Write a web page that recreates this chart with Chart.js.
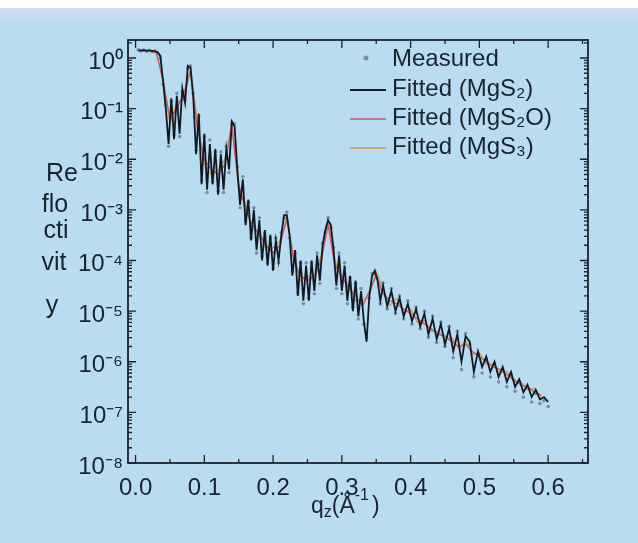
<!DOCTYPE html>
<html><head><meta charset="utf-8">
<script src="https://cdn.jsdelivr.net/npm/chart.js@4.4.0/dist/chart.umd.min.js"></script>
<style>
html,body{margin:0;padding:0;background:#b9dcf1;}
#wrap{position:relative;width:638px;height:543px;overflow:hidden;background:#b9dcf1;}
#topstrip{position:absolute;left:0;top:0;width:638px;height:8px;background:#fff;}
#fade{position:absolute;left:0;top:8px;width:638px;height:16px;background:linear-gradient(#d3dcf0,#b9dcf1);}
canvas{position:absolute;left:0;top:0;}
</style></head><body>
<div id="wrap"><div id="topstrip"></div><div id="fade"></div><canvas id="c" width="638" height="543"></canvas></div>
<script>
// ---- data (q in 1/Å, reflectivity) ----
const qGrid = [
 0.004,0.008,0.012,0.016,0.020,0.024,0.028,0.032,0.036,0.040,
 0.044,0.048,0.052,0.056,0.060,0.064,0.068,0.072,0.076,0.080,
 0.084,0.088,0.092,0.096,0.100,0.104,0.108,0.112,0.116,0.120,
 0.124,0.128,0.132,0.136,0.140,0.144,0.148,0.152,0.156,0.160,
 0.164,0.168,0.172,0.176,0.180,0.184,0.188,0.192,0.196,0.200,
 0.204,0.208,0.212,0.216,0.220,0.224,0.228,0.232,0.236,0.240,
 0.244,0.248,0.252,0.256,0.260,0.264,0.268,0.272,0.276,0.280,
 0.284,0.288,0.292,0.296,0.300,0.304,0.308,0.312,0.316,0.320,
 0.324,0.328,0.332,0.336,0.340,0.344,0.348,0.352,0.356,0.360,
 0.366,0.372,0.378,0.384,0.390,0.396,0.402,0.408,0.414,0.420,
 0.426,0.432,0.438,0.444,0.450,0.456,0.462,0.468,0.474,0.480,
 0.486,0.492,0.498,0.504,0.510,0.516,0.522,0.528,0.534,0.540,
 0.546,0.552,0.558,0.564,0.570,0.576,0.582,0.588,0.594,0.600
];
const measured = [
 1.45,1.38,1.44,1.36,1.42,1.33,1.37,1.25,1.0,0.3,
 0.12,0.018,0.14,0.03,0.2,0.028,0.22,0.15,0.62,0.7,
 0.2,0.015,0.07,3.8e-3,0.028,2.2e-3,0.024,3.6e-3,0.014,2.3e-3,
 0.014,2.2e-3,0.018,5.5e-3,0.05,0.05,7e-3,1.1e-3,4.5e-3,6e-4,
 1.4e-3,2.8e-4,1.1e-3,1.4e-4,7e-4,1.2e-4,3.5e-4,9e-5,2.8e-4,7e-5,
 2.8e-4,9e-5,3.6e-4,7e-4,9e-4,2.8e-4,6e-5,1.4e-4,2.3e-5,9e-5,
 1.4e-5,9e-5,1.8e-5,9e-5,2.2e-5,1.4e-4,3.5e-5,2.2e-4,3.6e-4,7e-4,
 4.5e-4,1.8e-4,2.8e-5,1.4e-4,2.2e-5,9e-5,1.4e-5,4.5e-5,1.2e-5,3.5e-5,
 7e-6,2.8e-5,5.5e-6,3e-6,1.8e-5,5.5e-5,5.5e-5,4.5e-5,1.4e-5,3.6e-5,
 1.1e-5,2.8e-5,9e-6,2e-5,7e-6,1.6e-5,5.5e-6,1.2e-5,4.5e-6,1e-5,
 3e-6,8e-6,2.4e-6,6e-6,2e-6,5e-6,1.2e-6,4e-6,7e-7,3.6e-6,
 2.2e-6,5e-7,1.4e-6,6e-7,1.1e-6,5e-7,9e-7,4e-7,7e-7,3.2e-7,
 5.5e-7,2.6e-7,4e-7,2e-7,3e-7,1.6e-7,2.4e-7,1.5e-7,1.7e-7,1.3e-7
];
const fitMgS2 = [
 1.4,1.42,1.42,1.4,1.4,1.38,1.35,1.3,1.1,0.35,
 0.1,0.02,0.16,0.025,0.18,0.032,0.25,0.13,0.7,0.65,
 0.16,0.0126,0.08,3.2e-3,0.032,2.5e-3,0.02,3.2e-3,0.016,2e-3,
 0.0126,2.5e-3,0.016,6.3e-3,0.056,0.045,6.3e-3,1.26e-3,4e-3,5e-4,
 1.6e-3,2.5e-4,1e-3,1.6e-4,6.3e-4,1e-4,4e-4,7.9e-5,3.2e-4,6.3e-5,
 2.5e-4,1e-4,3.2e-4,7.9e-4,7.9e-4,3.2e-4,5e-5,1.6e-4,2e-5,1e-4,
 1.6e-5,7.9e-5,1.6e-5,1e-4,2.5e-5,1.26e-4,4e-5,2e-4,4e-4,6.3e-4,
 5e-4,1.6e-4,3.2e-5,1.26e-4,2.5e-5,7.9e-5,1.6e-5,5e-5,1e-5,4e-5,
 7.9e-6,2.5e-5,6.3e-6,2.5e-6,2e-5,5e-5,6.3e-5,4e-5,1.6e-5,3.2e-5,
 1.26e-5,2.5e-5,1e-5,1.8e-5,7.9e-6,1.4e-5,6.3e-6,1.1e-5,5e-6,8.9e-6,
 3.5e-6,7.1e-6,2.8e-6,5.6e-6,2.2e-6,4.5e-6,1.6e-6,3.5e-6,1e-6,3.2e-6,
 2.5e-6,6.3e-7,1.6e-6,7.9e-7,1.26e-6,6.3e-7,1e-6,5e-7,7.9e-7,4e-7,
 6.3e-7,3.2e-7,4.5e-7,2.5e-7,3.5e-7,2e-7,2.8e-7,1.8e-7,2e-7,1.6e-7
];
const qCoarse = [
 0.01,0.02,0.03,0.04,0.05,0.06,0.07,0.08,0.09,0.10,
 0.11,0.12,0.13,0.14,0.15,0.16,0.17,0.18,0.19,0.20,
 0.21,0.22,0.23,0.24,0.25,0.26,0.27,0.28,0.29,0.30,
 0.31,0.32,0.33,0.34,0.35,0.36,0.37,0.38,0.39,0.40,
 0.41,0.42,0.43,0.44,0.45,0.46,0.47,0.48,0.49,0.50,
 0.51,0.52,0.53,0.54,0.55,0.56,0.57,0.58,0.59
];
const fitMgS2O = [
 1.4,1.38,1.32,0.35,0.063,0.1,0.2,0.55,0.04,0.01,
 6.3e-3,5e-3,7.9e-3,0.045,3.2e-3,1e-3,5e-4,3.2e-4,2e-4,1.4e-4,
 2e-4,7.1e-4,1e-4,5e-5,4e-5,5e-5,1e-4,5e-4,7.9e-5,5e-5,
 2.8e-5,2e-5,1.26e-5,2.5e-5,5e-5,2.2e-5,1.6e-5,1.4e-5,1.1e-5,8.9e-6,
 7.1e-6,5.6e-6,4.5e-6,3.5e-6,3.2e-6,2.5e-6,2e-6,2.2e-6,1.6e-6,1.26e-6,
 1e-6,7.9e-7,7.1e-7,5.6e-7,4.5e-7,3.5e-7,3.2e-7,2.5e-7,2.2e-7
];
const fitMgS3 = [
 1.42,1.36,1.28,0.4,0.05,0.13,0.16,0.6,0.05,0.008,
 5e-3,6e-3,0.01,0.05,2.5e-3,1.3e-3,4e-4,4e-4,1.6e-4,1.8e-4,
 2.5e-4,6e-4,1.3e-4,4e-5,5e-5,4e-5,1.3e-4,6e-4,1e-4,4e-5,
 3.5e-5,1.6e-5,1.6e-5,2e-5,6e-5,2.8e-5,1.3e-5,1.8e-5,9e-6,1.1e-5,
 6e-6,6.5e-6,4e-6,4e-6,2.8e-6,3e-6,1.8e-6,2.6e-6,1.4e-6,1.5e-6,
 9e-7,9e-7,6e-7,6.5e-7,4e-7,4e-7,2.8e-7,3e-7,2e-7
];
const legendLabels = ['Measured','Fitted (MgS\u2082)','Fitted (MgS\u2082O)','Fitted (MgS\u2083)'];
const xTickValues = [0,0.1,0.2,0.3,0.4,0.5,0.6];
const xTickLabels = ['0.0','0.1','0.2','0.3','0.4','0.5','0.6'];
const xMinorValues = [0.05,0.15,0.25,0.35,0.45,0.55,0.65];
const yTickValues = [1,1e-1,1e-2,1e-3,1e-4,1e-5,1e-6,1e-7,1e-8];
const yTickLabels = ['10\u2070','10\u207B\u00B9','10\u207B\u00B2','10\u207B\u00B3','10\u207B\u2074','10\u207B\u2075','10\u207B\u2076','10\u207B\u2077','10\u207B\u2078'];
const yTitleLines = ['Re','flo','cti','vit','y'];

const INK = '#18242f';
const FONT = "'Liberation Sans', Arial, sans-serif";

const pts = (xs, ys) => xs.map((x, i) => ({x: x, y: ys[i]}));

const decor = {
  id: 'decor',
  afterDraw(chart) {
    const ctx = chart.ctx, a = chart.chartArea;
    const xs = chart.scales.x, ys = chart.scales.y;
    ctx.save();
    ctx.strokeStyle = INK;
    ctx.lineWidth = 1.8;
    ctx.strokeRect(a.left, a.top, a.right - a.left, a.bottom - a.top);
    ctx.lineWidth = 1.3;
    ctx.beginPath();
    xTickValues.forEach(v => {
      const p = xs.getPixelForValue(v);
      ctx.moveTo(p, a.bottom); ctx.lineTo(p, a.bottom - 8);
      ctx.moveTo(p, a.top); ctx.lineTo(p, a.top + 8);
    });
    xMinorValues.forEach(v => {
      const p = xs.getPixelForValue(v);
      if (p < a.right) {
        ctx.moveTo(p, a.bottom); ctx.lineTo(p, a.bottom - 4);
        ctx.moveTo(p, a.top); ctx.lineTo(p, a.top + 4);
      }
    });
    yTickValues.forEach(v => {
      const p = ys.getPixelForValue(v);
      ctx.moveTo(a.left, p); ctx.lineTo(a.left + 8, p);
      ctx.moveTo(a.right, p); ctx.lineTo(a.right - 8, p);
      for (let m = 2; m <= 9; m++) {
        const q = ys.getPixelForValue(v * m);
        if (q > a.top) {
          ctx.moveTo(a.left, q); ctx.lineTo(a.left + 4, q);
          ctx.moveTo(a.right, q); ctx.lineTo(a.right - 4, q);
        }
      }
    });
    ctx.stroke();

    // y title
    ctx.fillStyle = INK;
    ctx.font = '25px ' + FONT;
    ctx.textAlign = 'center';
    ctx.textBaseline = 'middle';
    const yPos = [174, 205, 231, 263, 306];
    const xPos = [62, 55, 56, 54, 52];
    yTitleLines.forEach((t, i) => ctx.fillText(t, xPos[i], yPos[i]));

    // x title  q_z(Å^-1)
    ctx.textAlign = 'left';
    ctx.textBaseline = 'alphabetic';
    let x = 311; const base = 513;
    ctx.font = '23px ' + FONT;
    ctx.fillText('q', x, base); x += ctx.measureText('q').width;
    ctx.font = '16px ' + FONT;
    ctx.fillText('z', x, base + 4); x += ctx.measureText('z').width;
    ctx.font = '23px ' + FONT;
    ctx.fillText('(\u00C5', x, base); x += ctx.measureText('(\u00C5').width;
    ctx.font = '16px ' + FONT;
    ctx.fillText('-1', x, base - 13); x += ctx.measureText('-1').width + 3;
    ctx.font = '23px ' + FONT;
    ctx.fillText(')', x, base);

    // legend
    const rows = [59, 89, 118, 147];
    const ds = chart.data.datasets;
    ctx.font = '24px ' + FONT;
    ctx.textBaseline = 'middle';
    ds.forEach((d, i) => {
      const y = rows[i];
      if (i === 0) {
        ctx.fillStyle = d.pointBackgroundColor;
        ctx.beginPath(); ctx.arc(366, y - 1, 2.5, 0, Math.PI * 2); ctx.fill();
      } else {
        ctx.strokeStyle = d.borderColor;
        ctx.lineWidth = d.borderWidth;
        ctx.beginPath(); ctx.moveTo(350, y + 1); ctx.lineTo(386, y + 1); ctx.stroke();
      }
      ctx.fillStyle = INK;
      ctx.fillText(d.label, 392, y);
    });
    ctx.restore();
  }
};

new Chart(document.getElementById('c').getContext('2d'), {
  type: 'scatter',
  data: {
    datasets: [
      {label: legendLabels[0], data: pts(qGrid, measured), showLine: false,
       pointRadius: 1.8, pointBackgroundColor: '#7a8ea4', pointBorderWidth: 0, order: 3},
      {label: legendLabels[1], data: pts(qGrid, fitMgS2), showLine: true,
       borderColor: '#111a24', borderWidth: 1.8, pointRadius: 0, order: 0},
      {label: legendLabels[2], data: pts(qCoarse, fitMgS2O), showLine: true,
       borderColor: '#c45a70', borderWidth: 1.3, pointRadius: 0, order: 1},
      {label: legendLabels[3], data: pts(qCoarse, fitMgS3), showLine: true,
       borderColor: '#d49a3c', borderWidth: 1.3, pointRadius: 0, order: 2}
    ]
  },
  options: {
    responsive: false,
    animation: false,
    layout: {padding: {left: 0, top: 40, right: 50, bottom: 0}},
    plugins: {legend: {display: false}, tooltip: {enabled: false}},
    scales: {
      x: {
        type: 'linear', min: -0.011, max: 0.658,
        afterBuildTicks: s => { s.ticks = xTickValues.map(v => ({value: v})); },
        afterFit: s => { s.height = 80; },
        grid: {display: false, drawTicks: false},
        border: {display: false},
        ticks: {callback: (v, i) => xTickLabels[i], autoSkip: false, maxRotation: 0,
                padding: 11, color: INK, font: {family: FONT, size: 24}}
      },
      y: {
        type: 'logarithmic', min: 1e-8, max: 2.27,
        afterBuildTicks: s => { s.ticks = yTickValues.map(v => ({value: v})); },
        afterFit: s => { s.width = 128; },
        grid: {display: false, drawTicks: false},
        border: {display: false},
        ticks: {callback: (v, i) => yTickLabels[i], autoSkip: false, padding: 5, labelOffset: 4,
                color: INK, font: {family: FONT, size: 24}}
      }
    }
  },
  plugins: [decor]
});
</script>
</body></html>
